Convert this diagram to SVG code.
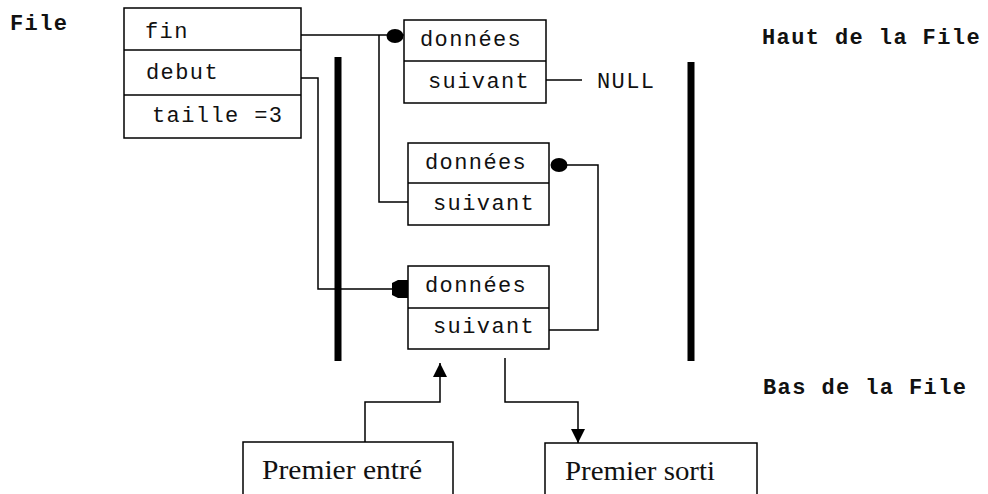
<svg xmlns="http://www.w3.org/2000/svg" width="988" height="494" viewBox="0 0 988 494">
<defs>
<style>
.box{fill:#fff;stroke:#000;stroke-width:1.5}
.ln{fill:none;stroke:#000;stroke-width:1.5}
.mono{font-family:"Liberation Mono","Courier New",monospace;font-size:22px;letter-spacing:1.4px;fill:#111}
.bold{font-weight:bold}
.serif{font-family:"Liberation Serif","Times New Roman",serif;font-size:27px;fill:#111}
.bar{stroke:#000;stroke-width:7;fill:none}
</style>
<marker id="arr" viewBox="0 0 10 10" refX="10" refY="5" markerWidth="16" markerHeight="14" markerUnits="userSpaceOnUse" orient="auto">
<path d="M0,0 L10,5 L0,10 z" fill="#000"/>
</marker>
</defs>
<text class="mono bold" x="10" y="30">File</text>
<text class="mono bold" x="762" y="44">Haut de la File</text>
<text class="mono bold" x="763" y="394">Bas de la File</text>
<g id="file-struct">
<rect class="box" x="124" y="8" width="177" height="130"/>
<line class="ln" x1="124" y1="50" x2="301" y2="50"/>
<line class="ln" x1="124" y1="95" x2="301" y2="95"/>
<text class="mono" x="145" y="38">fin</text>
<text class="mono" x="146" y="79">debut</text>
<text class="mono" x="152" y="122">taille =3</text>
</g>
<g id="bars">
<line class="bar" x1="338" y1="57" x2="338" y2="361"/>
<line class="bar" x1="691" y1="62" x2="691" y2="361"/>
</g>
<g id="node1">
<rect class="box" x="404" y="20" width="142" height="83"/>
<line class="ln" x1="404" y1="61" x2="546" y2="61"/>
<text class="mono" x="420" y="46">données</text>
<text class="mono" x="428" y="88">suivant</text>
</g>
<text class="mono" x="597" y="88">NULL</text>
<g id="node2">
<rect class="box" x="408" y="143" width="141" height="82"/>
<line class="ln" x1="408" y1="183" x2="549" y2="183"/>
<text class="mono" x="425" y="169">données</text>
<text class="mono" x="433" y="210">suivant</text>
</g>
<g id="node3">
<rect class="box" x="408" y="266" width="141" height="83"/>
<line class="ln" x1="408" y1="308" x2="549" y2="308"/>
<text class="mono" x="425" y="292">données</text>
<text class="mono" x="433" y="333">suivant</text>
</g>
<g id="premier-entre">
<rect class="box" x="243" y="442" width="210" height="60"/>
<text class="serif" x="262" y="479" textLength="160" lengthAdjust="spacingAndGlyphs">Premier entré</text>
</g>
<g id="premier-sorti">
<rect class="box" x="545" y="443" width="212" height="60"/>
<text class="serif" x="565" y="480" textLength="150" lengthAdjust="spacingAndGlyphs">Premier sorti</text>
</g>
<g id="connectors">
<polyline class="ln" points="301,35 404,35"/>
<ellipse cx="395" cy="36" rx="8.5" ry="7" fill="#000"/>
<polyline class="ln" points="379,35 379,202 408,202"/>
<line class="ln" x1="546" y1="80" x2="582" y2="80"/>
<polyline class="ln" points="301,78 318,78 318,289 408,289"/>
<path d="M392,283 L398,280 L408,280 L408,298 L398,298 L392,295 z" fill="#000"/>
<polyline class="ln" points="549,330 598,330 598,165 560,165"/>
<ellipse cx="559" cy="165" rx="8.5" ry="7" fill="#000"/>
<polyline class="ln" points="365,442 365,402 440,402 440,363" marker-end="url(#arr)"/>
<polyline class="ln" points="505,358 505,402 578,402 578,443" marker-end="url(#arr)"/>
</g>
</svg>
